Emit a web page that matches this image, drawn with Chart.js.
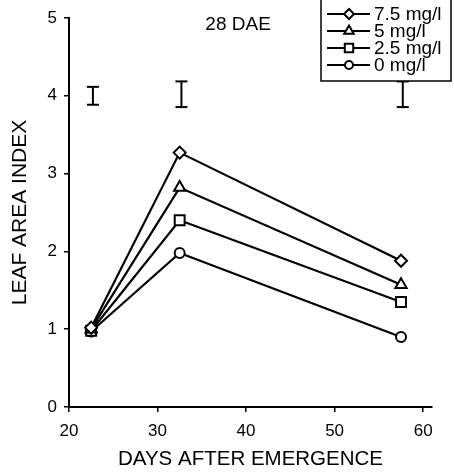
<!DOCTYPE html>
<html lang="en">
<head>
  <meta charset="UTF-8"/>
  <title>Leaf area index</title>
  <style>
    html, body { margin: 0; padding: 0; background: #fff; }
    #wrap { width: 454px; height: 474px; }
  </style>
</head>
<body>
  <div id="wrap"><canvas id="laiChart" width="454" height="474"></canvas></div>
  <script src="https://cdn.jsdelivr.net/npm/chart.js"></script>
  <script>
    // days after emergence
    const days = [22.5, 32.5, 57.5]
    // leaf area index by NAA level
    const lai75 = [1.02, 3.27, 1.88]
    const lai5 = [1.00, 2.82, 1.57]
    const lai25 = [0.98, 2.40, 1.35]
    const lai0 = [0.97, 1.98, 0.90]
    const seriesLabels = ['7.5 mg/l', '5 mg/l', '2.5 mg/l', '0 mg/l']
    // LSD bars
    const lsdDays = [22.7, 32.7, 57.7]
    const lsdMid = [4.0, 4.02, 4.02]
    const lsdHalf = [0.115, 0.165, 0.165]
    const xTicks = [20, 30, 40, 50, 60]
    const yTicks = [0, 1, 2, 3, 4, 5]
    const note = '28 DAE'

    Chart.defaults.font.family = '"Liberation Sans", Arial, sans-serif'
    Chart.defaults.color = '#000'

    const styles = ['rectRot', 'triangle', 'rect', 'circle'],
      radii = [6, 6.5, 7, 5]
    const mk = (vals, i) => ({
      label: seriesLabels[i],
      data: vals.map((v, j) => ({ x: days[j], y: v })),
      borderColor: '#000', borderWidth: 2.2,
      pointStyle: styles[i], pointRadius: radii[i], pointBorderWidth: 2,
      pointBackgroundColor: '#fff', pointBorderColor: '#000',
      tension: 0
    })

    // error bars as one broken line with flat caps
    const lsdData = []
    lsdDays.forEach((d, i) => {
      lsdData.push({ x: d, y: lsdMid[i] - lsdHalf[i] })
      lsdData.push({ x: d, y: lsdMid[i] + lsdHalf[i] })
      lsdData.push({ x: d + 1, y: null })
    })

    const extras = {
      id: 'extras',
      afterDraw(chart) {
        const ctx = chart.ctx, xs = chart.scales.x, ys = chart.scales.y
        ctx.save()
        ctx.fillStyle = '#000'
        ctx.font = '19px "Liberation Sans", Arial, sans-serif'
        ctx.textAlign = 'center'
        ctx.textBaseline = 'middle'
        ctx.fillText(note, xs.getPixelForValue(39.1), ys.getPixelForValue(4.91))
        // legend box
        const lx = 321, ly = -1, lw = 130, lh = 82
        ctx.fillStyle = '#fff'
        ctx.fillRect(lx, ly, lw, lh)
        ctx.strokeStyle = '#000'
        ctx.lineWidth = 1.5
        ctx.strokeRect(lx, ly, lw, lh)
        ctx.textAlign = 'left'
        seriesLabels.forEach((t, i) => {
          const y = 14 + i * 17
          ctx.lineWidth = 2
          ctx.strokeStyle = '#000'
          ctx.beginPath()
          ctx.moveTo(327, y)
          ctx.lineTo(370, y)
          ctx.stroke()
          ctx.fillStyle = '#fff'
          Chart.helpers.drawPoint(ctx, { pointStyle: styles[i], radius: radii[i] - 1, rotation: 0, borderWidth: 2 }, 349, y)
          ctx.fillStyle = '#000'
          ctx.fillText(t, 374, y + 1)
        })
        ctx.restore()
      }
    }

    new Chart(document.getElementById('laiChart'), {
      type: 'line',
      data: {
        datasets: [
          mk(lai75, 0), mk(lai5, 1), mk(lai25, 2), mk(lai0, 3),
          {
            label: 'LSD', data: lsdData,
            borderColor: '#000', borderWidth: 2, spanGaps: false,
            pointStyle: 'line', pointRadius: 6, pointBorderWidth: 2,
            pointBorderColor: '#000'
          }
        ]
      },
      options: {
        responsive: false,
        animation: false,
        devicePixelRatio: 1,
        layout: { padding: { top: 18, right: 22, left: 0, bottom: 0 } },
        plugins: { legend: { display: false }, tooltip: { enabled: false } },
        scales: {
          x: {
            type: 'linear', min: 20, max: 61,
            afterFit: s => { s.height = 67 },
            afterBuildTicks: s => { s.ticks = xTicks.map(v => ({ value: v })) },
            ticks: { font: { size: 17 }, padding: 9, color: '#000' },
            grid: { drawOnChartArea: false, tickLength: 5, color: '#000', lineWidth: 1.5 },
            border: { color: '#000', width: 2 },
            title: { display: true, text: 'DAYS AFTER EMERGENCE', font: { size: 20.5 }, padding: { bottom: 2, top: 0 }, color: '#000' }
          },
          y: {
            min: 0, max: 5,
            afterFit: s => { s.width = 69 },
            afterBuildTicks: s => { s.ticks = yTicks.map(v => ({ value: v })) },
            ticks: { font: { size: 17 }, padding: 7, color: '#000' },
            grid: { drawOnChartArea: false, tickLength: 5, color: '#000', lineWidth: 1.5 },
            border: { color: '#000', width: 2 },
            title: { display: true, text: 'LEAF AREA INDEX', font: { size: 21 }, padding: { top: 8, bottom: 0 }, color: '#000' }
          }
        }
      },
      plugins: [extras]
    })
  </script>
</body>
</html>
